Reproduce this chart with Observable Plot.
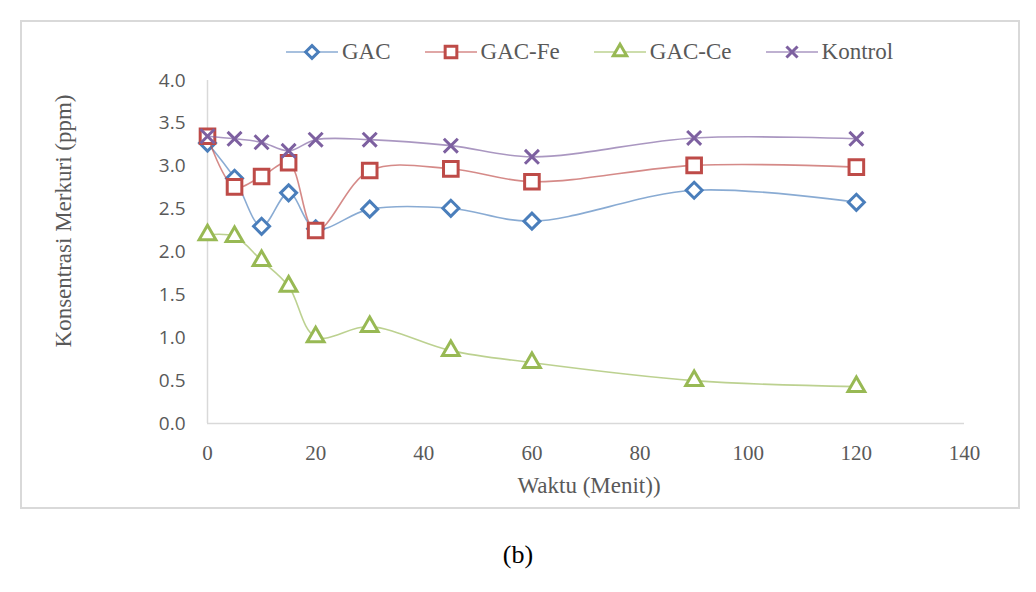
<!DOCTYPE html>
<html>
<head>
<meta charset="utf-8">
<script src="https://cdn.jsdelivr.net/npm/d3@7"></script>
<script src="https://cdn.jsdelivr.net/npm/@observablehq/plot@0.6"></script>
<style>
  html, body { margin: 0; padding: 0; background: #fff; }
  body { position: relative; width: 1036px; height: 592px; overflow: hidden; font-family: "Liberation Serif", serif; }
  #frame { position: absolute; left: 20px; top: 20px; width: 996px; height: 485px; border: 2px solid #d9d9d9; box-sizing: content-box; }
  #legend { position: absolute; top: 39px; left: 286px; display: flex; }
  .item { display: flex; align-items: center; margin-right: 34px; font-size: 23px; color: #595959; }
  .item svg { margin-right: 4px; }
  #chart { position: absolute; left: 0; top: 70px; }
  #chart svg text { font-family: "Liberation Serif", serif; }
  #chart svg .ytick text { font-family: "Open Sans", sans-serif; }
  #caption { position: absolute; top: 540px; left: 0; width: 1036px; text-align: center; font-size: 26px; color: #000; }
</style>
</head>
<body>
<div id="frame"></div>
<div id="legend"></div>
<div id="chart"></div>
<div id="caption">(b)</div>
<script>
// Sampling times (minutes)
const waktu = [0, 5, 10, 15, 20, 30, 45, 60, 90, 120];

// Mercury concentration (ppm) per adsorbent
const gac     = [3.27, 2.86, 2.30, 2.69, 2.27, 2.50, 2.51, 2.36, 2.72, 2.58];
const gacFe   = [3.35, 2.76, 2.88, 3.04, 2.25, 2.95, 2.97, 2.82, 3.01, 2.99];
const gacCe   = [2.20, 2.18, 1.90, 1.60, 1.01, 1.13, 0.85, 0.71, 0.50, 0.43];
const kontrol = [3.35, 3.32, 3.28, 3.18, 3.31, 3.31, 3.24, 3.11, 3.33, 3.32];

const seriesNames = ["GAC", "GAC-Fe", "GAC-Ce", "Kontrol"];
const seriesValues = [gac, gacFe, gacCe, kontrol];
const seriesColors = ["#4a7ebb", "#be4b48", "#98b954", "#7d60a0"];
const seriesSymbols = ["diamond2", "square2", "triangle2", "times"];
const seriesR = [7.2, 9.3, 8.0, 6.4];

const xTicks = [0, 20, 40, 60, 80, 100, 120, 140];
const yTicks = [0, 0.5, 1, 1.5, 2, 2.5, 3, 3.5, 4];

const xLabel = "Waktu (Menit))";
const yLabel = "Konsentrasi Merkuri (ppm)";

const rows = seriesNames.map((name, i) =>
  waktu.map((t, j) => ({series: name, waktu: t, ppm: seriesValues[i][j]}))
);

const marks = [
  Plot.ruleX([0], {stroke: "#d9d9d9", strokeWidth: 1.5}),
  Plot.ruleY([0], {stroke: "#d9d9d9", strokeWidth: 1.5}),
  Plot.axisX({ticks: xTicks, tickSize: 0, tickPadding: 22, tickFormat: d => String(d),
    fontSize: 21, fill: "#595959", label: null}),
  Plot.axisY({ticks: yTicks, tickSize: 0, tickPadding: 22, tickFormat: d3.format(".1f"),
    fontSize: 19, fill: "#595959", label: null, className: "ytick"}),
  Plot.text([xLabel], {frameAnchor: "bottom", dy: 69, dx: 3, fontSize: 23, fill: "#595959"}),
  Plot.text([yLabel], {frameAnchor: "left", textAnchor: "middle", rotate: -90, dx: -144, dy: -31,
    fontSize: 23, fill: "#595959"})
];

rows.forEach((data, i) => {
  marks.push(Plot.line(data, {x: "waktu", y: "ppm", curve: "catmull-rom",
    stroke: seriesColors[i], strokeWidth: 1.6, strokeOpacity: 0.65}));
  marks.push(Plot.dot(data, {x: "waktu", y: "ppm", symbol: () => seriesSymbols[i],
    r: seriesR[i], stroke: seriesColors[i], strokeWidth: 3, fill: "white"}));
});

const chart = Plot.plot({
  width: 1036,
  height: 440,
  marginLeft: 207,
  marginRight: 72,
  marginTop: 10,
  marginBottom: 87,
  x: {domain: [0, 140]},
  y: {domain: [0, 4]},
  symbol: {type: "identity"},
  style: {background: "transparent", overflow: "visible", fontFamily: "'Liberation Serif', serif"},
  marks
});
document.getElementById("chart").appendChild(chart);

// Legend: line segment with marker, then the series name
const symbolTypes = {diamond2: d3.symbolDiamond2, square2: d3.symbolSquare2, triangle2: d3.symbolTriangle2, times: d3.symbolTimes};
const legend = d3.select("#legend");
seriesNames.forEach((name, i) => {
  const item = legend.append("div").attr("class", "item");
  const svg = item.append("svg").attr("width", 52).attr("height", 26);
  svg.append("line").attr("x1", 0).attr("x2", 52).attr("y1", 13).attr("y2", 13)
    .attr("stroke", seriesColors[i]).attr("stroke-width", 1.6).attr("stroke-opacity", 0.65);
  const r = seriesR[i] * 0.8;
  svg.append("path")
    .attr("transform", "translate(26,13)")
    .attr("d", d3.symbol(symbolTypes[seriesSymbols[i]], r * r * Math.PI)())
    .attr("fill", "white").attr("stroke", seriesColors[i]).attr("stroke-width", 3);
  item.append("span").text(name);
});
</script>
</body>
</html>
